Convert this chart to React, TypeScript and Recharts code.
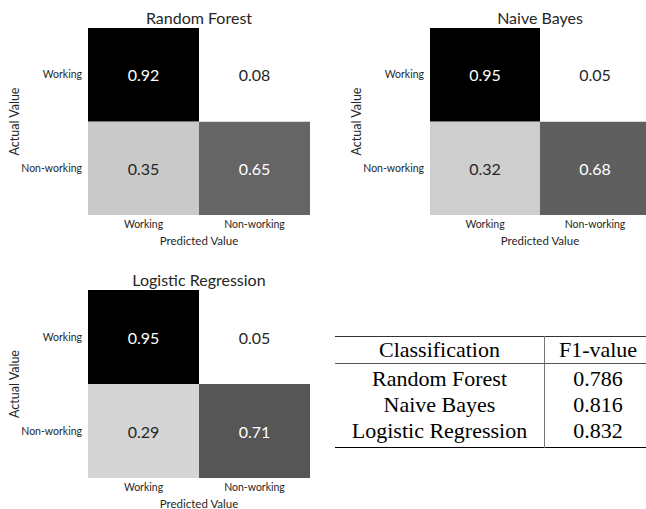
import { Bar, BarChart, Cell, LabelList, XAxis, YAxis } from "recharts";

const PREDICTED = ["Working", "Non-working"];
const ACTUAL = ["Working", "Non-working"];

// rows of each confusion matrix (actual value), columns = predicted value
const RF_WORKING = [0.92, 0.08];
const RF_NON_WORKING = [0.35, 0.65];
const NB_WORKING = [0.95, 0.05];
const NB_NON_WORKING = [0.32, 0.68];
const LR_WORKING = [0.95, 0.05];
const LR_NON_WORKING = [0.29, 0.71];

const CLASSIFIERS = ["Random Forest", "Naive Bayes", "Logistic Regression"];
const F1_VALUES = [0.786, 0.816, 0.832];

// matplotlib "Greys" colour stops
const GREYS = [255, 240, 217, 189, 150, 115, 82, 37, 0];

const FONT = "Lato, 'DejaVu Sans', sans-serif";
const INK = "#262626";

function greyLevel(t: number) {
  const p = Math.min(Math.max(t, 0), 1) * (GREYS.length - 1);
  const i = Math.min(Math.floor(p), GREYS.length - 2);
  return Math.round(GREYS[i] + (GREYS[i + 1] - GREYS[i]) * (p - i));
}

type MatrixProps = {
  title: string;
  working: number[];
  nonWorking: number[];
  left: number;
  top: number;
  width: number;
  height: number;
  yAxisWidth: number;
  marginRight: number;
};

function Matrix({ title, working, nonWorking, left, top, width, height, yAxisWidth, marginRight }: MatrixProps) {
  const all = [...working, ...nonWorking];
  const lo = Math.min(...all);
  const hi = Math.max(...all);
  const norm = (v: number) => (v - lo) / (hi - lo);

  const data = PREDICTED.map((pred, i) => ({
    pred,
    bottomRow: 1,
    topRow: 1,
    workingVal: working[i],
    nonWorkingVal: nonWorking[i],
  }));

  const fillFor = (v: number) => {
    const g = greyLevel(norm(v));
    return `rgb(${g},${g},${g})`;
  };

  const renderValue = (props: any) => {
    const { x, y, width: w, height: h, value } = props;
    const g = greyLevel(norm(value));
    return (
      <text
        x={x + w / 2}
        y={y + h / 2}
        textAnchor="middle"
        dominantBaseline="central"
        fill={g < 171 ? "#ffffff" : INK}
        fontSize={16}
        fontFamily={FONT}
      >
        {Number(value).toFixed(2)}
      </text>
    );
  };

  return (
    <div style={{ position: "absolute", left, top, width, height }}>
      <div
        style={{
          position: "absolute",
          left: yAxisWidth,
          width: width - yAxisWidth - marginRight,
          top: 10,
          textAlign: "center",
          fontFamily: FONT,
          fontSize: 16,
          lineHeight: "16px",
          color: INK,
          whiteSpace: "nowrap",
        }}
      >
        {title}
      </div>
      <BarChart
        width={width}
        height={height}
        data={data}
        margin={{ top: 28, right: marginRight, bottom: 0, left: 0 }}
        barCategoryGap={0}
        barGap={0}
      >
        <XAxis
          dataKey="pred"
          type="category"
          height={35}
          tickLine={false}
          axisLine={false}
          tickSize={0}
          tickMargin={6}
          interval={0}
          tick={{ fontSize: 10.5, fill: INK, fontFamily: FONT }}
          label={{
            value: "Predicted Value",
            position: "insideBottom",
            offset: 5,
            fontSize: 11.5,
            fill: INK,
            fontFamily: FONT,
          }}
        />
        <YAxis
          type="number"
          domain={[0, 2]}
          ticks={[0.5, 1.5]}
          width={yAxisWidth}
          tickLine={false}
          axisLine={false}
          tickSize={0}
          tickMargin={6}
          tickFormatter={(v: number) => (v > 1 ? ACTUAL[0] : ACTUAL[1])}
          tick={{ fontSize: 10.5, fill: INK, fontFamily: FONT }}
          label={{
            content: (p: any) => {
              const vb = p.viewBox;
              const cx = vb.x + vb.width - 74;
              const cy = vb.y + vb.height / 2;
              return (
                <text
                  x={cx}
                  y={cy}
                  transform={`rotate(-90, ${cx}, ${cy})`}
                  textAnchor="middle"
                  dominantBaseline="central"
                  fontSize={12.5}
                  fill={INK}
                  fontFamily={FONT}
                >
                  Actual Value
                </text>
              );
            },
          }}
        />
        <Bar dataKey="bottomRow" stackId="m" isAnimationActive={false}>
          {data.map((d, i) => (
            <Cell key={i} fill={fillFor(d.nonWorkingVal)} />
          ))}
          <LabelList dataKey="nonWorkingVal" content={renderValue} />
        </Bar>
        <Bar dataKey="topRow" stackId="m" isAnimationActive={false}>
          {data.map((d, i) => (
            <Cell key={i} fill={fillFor(d.workingVal)} />
          ))}
          <LabelList dataKey="workingVal" content={renderValue} />
        </Bar>
      </BarChart>
    </div>
  );
}

function ScoreTable() {
  const serif = "'Liberation Serif', 'Times New Roman', serif";
  const cell = (extra: any) => ({
    padding: 0,
    textAlign: "center" as const,
    fontFamily: serif,
    fontSize: 22,
    lineHeight: "26px",
    color: "#000",
    ...extra,
  });
  return (
    <table
      style={{
        position: "absolute",
        left: 335,
        top: 336,
        width: 316,
        borderCollapse: "collapse",
        borderTop: "1px solid #333",
        borderBottom: "1.5px solid #000",
      }}
    >
      <thead>
        <tr style={{ height: 26 }}>
          <th style={cell({ width: 209, fontWeight: "normal", borderRight: "1px solid #777", borderBottom: "1px solid #555" })}>
            Classification
          </th>
          <th style={cell({ fontWeight: "normal", borderBottom: "1px solid #555" })}>F1-value</th>
        </tr>
      </thead>
      <tbody>
        {CLASSIFIERS.map((name, i) => {
          const pad = {
            paddingTop: i === 0 ? 2 : 0,
            paddingBottom: i === CLASSIFIERS.length - 1 ? 3 : 0,
          };
          return (
            <tr key={name}>
              <td style={cell({ borderRight: "1px solid #777", ...pad })}>{name}</td>
              <td style={cell(pad)}>{F1_VALUES[i].toFixed(3)}</td>
            </tr>
          );
        })}
      </tbody>
    </table>
  );
}

export default function App() {
  return (
    <div
      style={{
        position: "fixed",
        left: 0,
        top: 0,
        width: 646,
        height: 509,
        overflow: "hidden",
        background: "#ffffff",
      }}
    >
      <Matrix
        title="Random Forest"
        working={RF_WORKING}
        nonWorking={RF_NON_WORKING}
        left={0}
        top={0}
        width={320}
        height={250}
        yAxisWidth={88}
        marginRight={10}
      />
      <Matrix
        title="Naive Bayes"
        working={NB_WORKING}
        nonWorking={NB_NON_WORKING}
        left={320}
        top={0}
        width={330}
        height={250}
        yAxisWidth={110}
        marginRight={0}
      />
      <Matrix
        title="Logistic Regression"
        working={LR_WORKING}
        nonWorking={LR_NON_WORKING}
        left={0}
        top={262}
        width={320}
        height={251}
        yAxisWidth={88}
        marginRight={10}
      />
      <ScoreTable />
    </div>
  );
}
